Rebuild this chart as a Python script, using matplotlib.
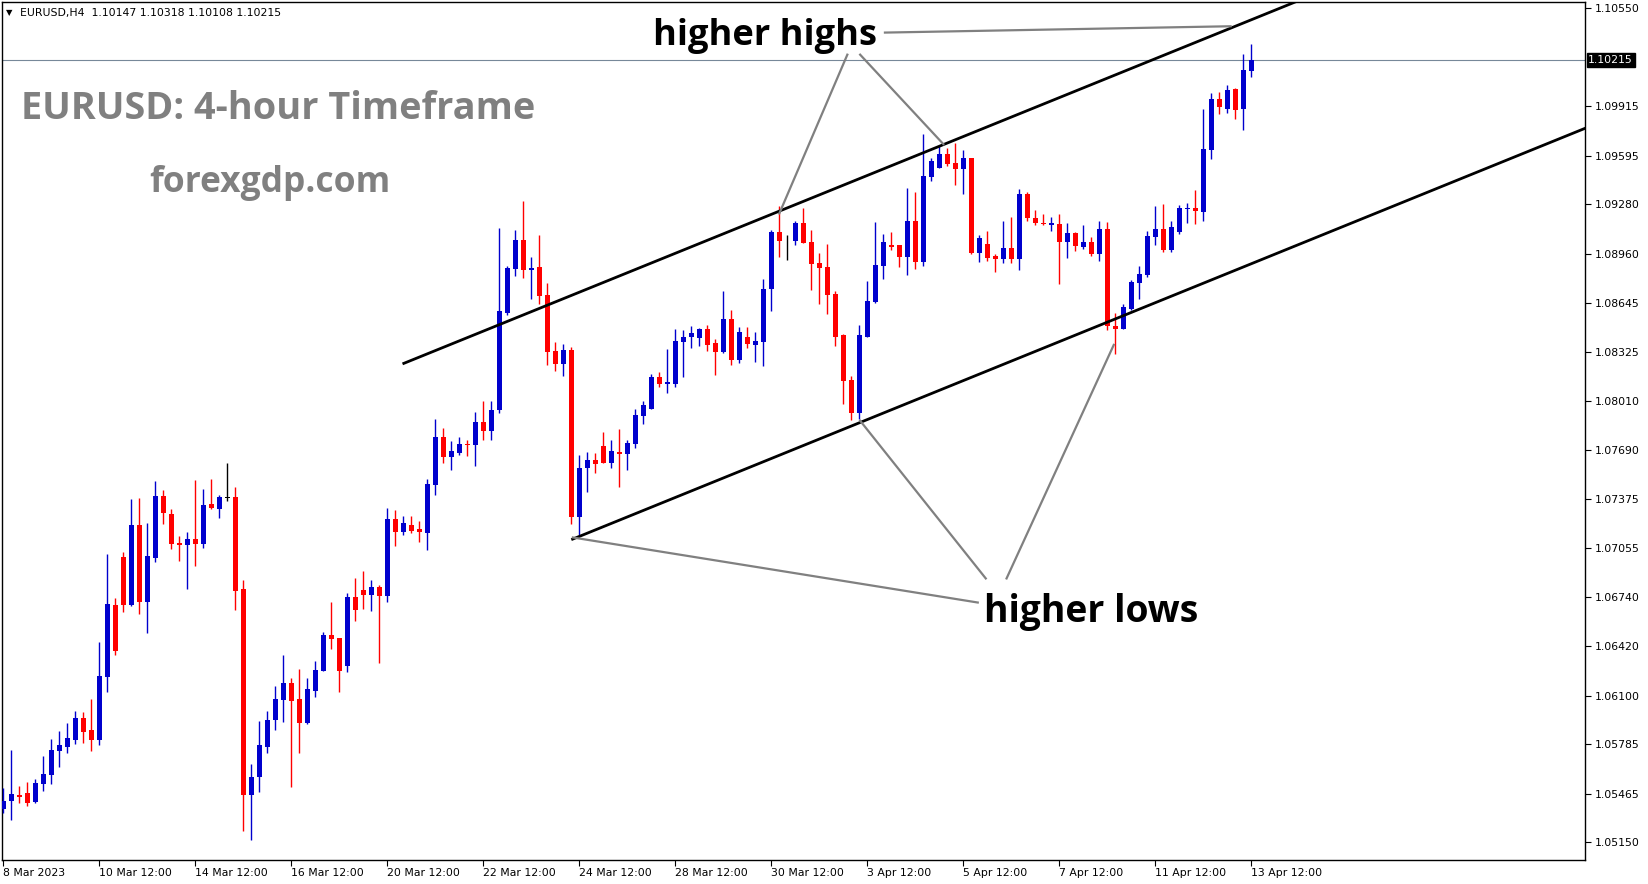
import matplotlib
matplotlib.use("Agg")
import matplotlib.pyplot as plt
import matplotlib.transforms as mtransforms
import numpy as np

# EURUSD H4 candles from 8 Mar 12:00 to 13 Apr 12:00
opens = [1.05364, 1.05421, 1.05457, 1.05470, 1.05414, 1.05531, 1.05589, 1.05744, 1.05770, 1.05815,
         1.05956, 1.05878, 1.05815, 1.06223, 1.06687, 1.06998, 1.06689, 1.07205, 1.06709, 1.06994,
         1.07393, 1.07277, 1.07089, 1.07078, 1.07115, 1.07085, 1.07341, 1.07309, 1.07382, 1.07387,
         1.06791, 1.05460, 1.05576, 1.05770, 1.05942, 1.06074, 1.06182, 1.06078, 1.05925, 1.06132,
         1.06262, 1.06493, 1.06473, 1.06294, 1.06739, 1.06784, 1.06754, 1.06803, 1.06748, 1.07244,
         1.07162, 1.07205, 1.07179, 1.07156, 1.07464, 1.07775, 1.07648, 1.07674, 1.07730, 1.07725,
         1.07872, 1.07816, 1.07950, 1.08578, 1.08865, 1.09051, 1.08859, 1.08876, 1.08695, 1.08332,
         1.08250, 1.08338, 1.07259, 1.07577, 1.07626, 1.07717, 1.07609, 1.07678, 1.07667, 1.07732,
         1.07913, 1.07958, 1.08163, 1.08120, 1.08120, 1.08392, 1.08422, 1.08418, 1.08474, 1.08383,
         1.08327, 1.08539, 1.08276, 1.08422, 1.08373, 1.08392, 1.08735, 1.09102, 1.09048, 1.09046,
         1.09160, 1.09037, 1.08901, 1.08875, 1.08701, 1.08435, 1.08144, 1.07932, 1.08424, 1.08649,
         1.08884, 1.09018, 1.09018, 1.08942, 1.09173, 1.08910, 1.09460, 1.09518, 1.09607, 1.09549,
         1.09512, 1.09581, 1.08968, 1.09025, 1.08947, 1.08930, 1.08999, 1.08924, 1.09349, 1.09195,
         1.09163, 1.09146, 1.09154, 1.09034, 1.09096, 1.09008, 1.09038, 1.08962, 1.09122, 1.08496,
         1.08476, 1.08606, 1.08774, 1.08826, 1.09072, 1.09122, 1.08988, 1.09104, 1.09251, 1.09258,
         1.09234, 1.09633, 1.09963, 1.09901, 1.10028, 1.09901, 1.10147]
highs = [1.05500, 1.05749, 1.05516, 1.05541, 1.05561, 1.05710, 1.05820, 1.05872, 1.05923, 1.06001,
         1.05995, 1.06079, 1.06448, 1.07017, 1.06733, 1.07030, 1.07374, 1.07380, 1.07218, 1.07490,
         1.07432, 1.07309, 1.07134, 1.07160, 1.07497, 1.07439, 1.07503, 1.07400, 1.07607, 1.07451,
         1.06849, 1.05660, 1.05937, 1.06001, 1.06165, 1.06363, 1.06216, 1.06273, 1.06216, 1.06324,
         1.06512, 1.06706, 1.06473, 1.06765, 1.06862, 1.06907, 1.06849, 1.06816, 1.07315, 1.07302,
         1.07264, 1.07264, 1.07231, 1.07503, 1.07892, 1.07833, 1.07749, 1.07775, 1.07756, 1.07937,
         1.08008, 1.08008, 1.09128, 1.08882, 1.09115, 1.09303, 1.08941, 1.09083, 1.08772, 1.08390,
         1.08377, 1.08358, 1.07659, 1.07678, 1.07672, 1.07808, 1.07756, 1.07827, 1.07755, 1.07956,
         1.08008, 1.08183, 1.08196, 1.08345, 1.08474, 1.08468, 1.08494, 1.08481, 1.08500, 1.08409,
         1.08720, 1.08597, 1.08487, 1.08487, 1.08455, 1.08798, 1.09115, 1.09270, 1.09083, 1.09173,
         1.09257, 1.09115, 1.08966, 1.09024, 1.08720, 1.08442, 1.08170, 1.08500, 1.08785, 1.09167,
         1.09089, 1.09102, 1.09018, 1.09387, 1.09361, 1.09736, 1.09581, 1.09659, 1.09646, 1.09678,
         1.09633, 1.09581, 1.09083, 1.09109, 1.08960, 1.09174, 1.09200, 1.09381, 1.09362, 1.09245,
         1.09219, 1.09200, 1.09219, 1.09161, 1.09103, 1.09148, 1.09070, 1.09174, 1.09167, 1.08578,
         1.08636, 1.08792, 1.08882, 1.09109, 1.09271, 1.09284, 1.09174, 1.09277, 1.09290, 1.09374,
         1.09899, 1.10002, 1.10009, 1.10054, 1.10035, 1.10255, 1.10318]
lows = [1.05343, 1.05295, 1.05403, 1.05388, 1.05403, 1.05485, 1.05531, 1.05641, 1.05731, 1.05790,
        1.05796, 1.05744, 1.05781, 1.06126, 1.06364, 1.06644, 1.06683, 1.06629, 1.06508, 1.06968,
        1.07212, 1.07052, 1.06975, 1.06793, 1.06942, 1.07059, 1.07309, 1.07251, 1.07361, 1.06655,
        1.05224, 1.05166, 1.05479, 1.05731, 1.05878, 1.05932, 1.05511, 1.05731, 1.05916, 1.06093,
        1.06262, 1.06404, 1.06126, 1.06255, 1.06585, 1.06661, 1.06650, 1.06314, 1.06707, 1.07069,
        1.07143, 1.07156, 1.07097, 1.07046, 1.07402, 1.07609, 1.07563, 1.07661, 1.07654, 1.07589,
        1.07758, 1.07758, 1.07932, 1.08567, 1.08820, 1.08807, 1.08671, 1.08638, 1.08244, 1.08205,
        1.08172, 1.07214, 1.07143, 1.07421, 1.07544, 1.07609, 1.07577, 1.07454, 1.07563, 1.07706,
        1.07861, 1.07958, 1.08101, 1.08062, 1.08101, 1.08165, 1.08353, 1.08366, 1.08334, 1.08178,
        1.08321, 1.08243, 1.08254, 1.08353, 1.08263, 1.08237, 1.08593, 1.08942, 1.08923, 1.09020,
        1.09029, 1.08729, 1.08638, 1.08573, 1.08366, 1.07991, 1.07887, 1.07893, 1.08424, 1.08642,
        1.08800, 1.08988, 1.08878, 1.08826, 1.08865, 1.08884, 1.09434, 1.09518, 1.09531, 1.09408,
        1.09350, 1.08962, 1.08910, 1.08911, 1.08846, 1.08898, 1.08898, 1.08859, 1.09170, 1.09144,
        1.09144, 1.09111, 1.08762, 1.08936, 1.08982, 1.08995, 1.08949, 1.08911, 1.08470, 1.08315,
        1.08476, 1.08599, 1.08671, 1.08813, 1.09020, 1.08975, 1.08975, 1.09092, 1.09161, 1.09154,
        1.09174, 1.09575, 1.09868, 1.09875, 1.09836, 1.09765, 1.10108]
closes = [1.05421, 1.05464, 1.05446, 1.05408, 1.05535, 1.05593, 1.05749, 1.05781, 1.05826, 1.05956,
          1.05867, 1.05815, 1.06228, 1.06694, 1.06392, 1.06689, 1.07205, 1.06709, 1.07005, 1.07393,
          1.07285, 1.07085, 1.07078, 1.07115, 1.07085, 1.07335, 1.07316, 1.07387, 1.07382, 1.06780,
          1.05460, 1.05574, 1.05781, 1.05942, 1.06078, 1.06182, 1.06068, 1.05925, 1.06143, 1.06266,
          1.06493, 1.06469, 1.06262, 1.06739, 1.06657, 1.06754, 1.06803, 1.06747, 1.07244, 1.07162,
          1.07218, 1.07169, 1.07162, 1.07471, 1.07775, 1.07648, 1.07684, 1.07730, 1.07723, 1.07872,
          1.07816, 1.07950, 1.08591, 1.08869, 1.09051, 1.08859, 1.08869, 1.08690, 1.08328, 1.08250,
          1.08338, 1.07259, 1.07575, 1.07626, 1.07603, 1.07609, 1.07685, 1.07667, 1.07736, 1.07917,
          1.07982, 1.08163, 1.08120, 1.08131, 1.08396, 1.08422, 1.08448, 1.08474, 1.08373, 1.08327,
          1.08539, 1.08276, 1.08455, 1.08379, 1.08396, 1.08733, 1.09102, 1.09046, 1.09048, 1.09160,
          1.09033, 1.08897, 1.08871, 1.08696, 1.08424, 1.08140, 1.07932, 1.08435, 1.08655, 1.08888,
          1.09037, 1.09005, 1.08942, 1.09173, 1.08910, 1.09465, 1.09562, 1.09607, 1.09544, 1.09512,
          1.09581, 1.08968, 1.09063, 1.08936, 1.08924, 1.08999, 1.08924, 1.09349, 1.09195, 1.09157,
          1.09152, 1.09163, 1.09034, 1.09096, 1.09014, 1.09038, 1.08962, 1.09122, 1.08496, 1.08476,
          1.08617, 1.08779, 1.08830, 1.09076, 1.09122, 1.08988, 1.09135, 1.09258, 1.09258, 1.09238,
          1.09640, 1.09963, 1.09914, 1.10022, 1.09894, 1.10151, 1.10215]

# time axis labels (one every 12 bars)
date_labels = ["8 Mar 2023", "10 Mar 12:00", "14 Mar 12:00", "16 Mar 12:00", "20 Mar 12:00",
               "22 Mar 12:00", "24 Mar 12:00", "28 Mar 12:00", "30 Mar 12:00", "3 Apr 12:00",
               "5 Apr 12:00", "7 Apr 12:00", "11 Apr 12:00", "13 Apr 12:00"]
date_bars = [0, 12, 24, 36, 48, 60, 72, 84, 96, 108, 120, 132, 144, 156]

price_ticks = [1.05150, 1.05465, 1.05785, 1.06100, 1.06420, 1.06740, 1.07055, 1.07375, 1.07690,
               1.08010, 1.08325, 1.08645, 1.08960, 1.09280, 1.09595, 1.09915, 1.10550]

# channel lines, two anchor points each (bar index, price)
upper_channel = [(49.9, 1.08248), (135.9, 1.10054)]
lower_channel = [(71.0, 1.07110), (135.8, 1.08472)]

# grey pointer lines from the labels to the swing points
hh_pointers = [((105.5, 1.10250), (97.0, 1.09222)),
               ((107.1, 1.10250), (117.5, 1.09671)),
               ((110.2, 1.10393), (153.4, 1.10434))]
hl_pointers = [((121.8, 1.06703), (71.2, 1.07124)),
               ((122.8, 1.06859), (107.1, 1.07880)),
               ((125.4, 1.06859), (138.8, 1.08371))]

W, H = 1649, 884
fig = plt.figure(figsize=(W / 100, H / 100), dpi=100)
fig.patch.set_facecolor("white")
ax = fig.add_axes([2 / W, 1 - 860 / H, 1583 / W, 858 / H])

bull = "#0000CD"
bear = "#FF0000"

x = np.arange(len(opens))
o = np.array(opens)
c = np.array(closes)
colors = [bull if cc > oo else (bear if cc < oo else "black") for oo, cc in zip(o, c)]

# wicks then bodies
ax.vlines(x, lows, highs, colors=colors, linewidth=1.0, zorder=3)
body_bottom = np.minimum(o, c)
body_height = np.maximum(np.abs(c - o), 0.00004)
ax.bar(x, body_height, bottom=body_bottom, width=0.62, color=colors, linewidth=0, zorder=4)

ax.set_xlim(-0.16, 197.7)
ax.set_ylim(1.05036, 1.10591)

# current price line
last = closes[-1]
ax.axhline(last, color="#778899", linewidth=0.8, zorder=2)

# channel lines
for (x0, p0), (x1, p1) in [upper_channel, lower_channel]:
    slope = (p1 - p0) / (x1 - x0)
    xe = 200
    ax.plot([x0, xe], [p0, p0 + slope * (xe - x0)], color="black", linewidth=2.0,
            solid_capstyle="butt", zorder=5)

for (a, b) in hh_pointers + hl_pointers:
    ax.plot([a[0], b[0]], [a[1], b[1]], color="#808080", linewidth=1.6, zorder=5)

# axes styling like the MT4 window
for s in ax.spines.values():
    s.set_color("black")
    s.set_linewidth(1.0)
ax.yaxis.tick_right()
ax.set_yticks(price_ticks)
ax.set_yticklabels([f"{p:.5f}" for p in price_ticks])
ax.tick_params(axis="y", direction="out", length=4, pad=3, labelsize=7.8, colors="black")
ax.set_xticks(date_bars)
ax.set_xticklabels(date_labels)
ax.tick_params(axis="x", direction="out", length=4, pad=2, labelsize=7.8, colors="black")
for lab in ax.get_xticklabels():
    lab.set_horizontalalignment("left")

# current price tag on the axis
trans = mtransforms.blended_transform_factory(ax.transAxes, ax.transData)
ax.text(1.002, last, f"{last:.5f}", transform=trans, ha="left", va="center", fontsize=7.8,
        color="white", bbox=dict(facecolor="black", edgecolor="black", pad=1.2), zorder=6,
        clip_on=False)

# header with the last bar values
fig.text(6 / W, 1 - 13 / H, "\u25BC", fontsize=6, color="black", va="center")
fig.text(20 / W, 1 - 13 / H,
         f"EURUSD,H4  {opens[-1]:.5f} {highs[-1]:.5f} {lows[-1]:.5f} {closes[-1]:.5f}",
         fontsize=7.8, color="black", va="center")


def fit_width(txt, width_px):
    r = fig.canvas.get_renderer()
    w = txt.get_window_extent(renderer=r).width
    txt.set_fontsize(txt.get_fontsize() * width_px / w)


t1 = fig.text(21 / W, 1 - 119 / H, "EURUSD: 4-hour Timeframe", fontsize=28, fontweight="bold",
              family="Open Sans", color="#808080", va="baseline")
t2 = fig.text(149 / W, 1 - 192 / H, "forexgdp.com", fontsize=28, fontweight="bold",
              family="Open Sans", color="#808080", va="baseline")
t3 = fig.text(653 / W, 1 - 45 / H, "higher highs", fontsize=27, fontweight="bold",
              family="Open Sans", color="black", va="baseline")
t4 = fig.text(984 / W, 1 - 622 / H, "higher lows", fontsize=27, fontweight="bold",
              family="Open Sans", color="black", va="baseline")
fit_width(t1, 513)
fit_width(t2, 241)
fit_width(t3, 224)
fit_width(t4, 215)

fig.savefig("out.png", dpi=100, facecolor="white")
